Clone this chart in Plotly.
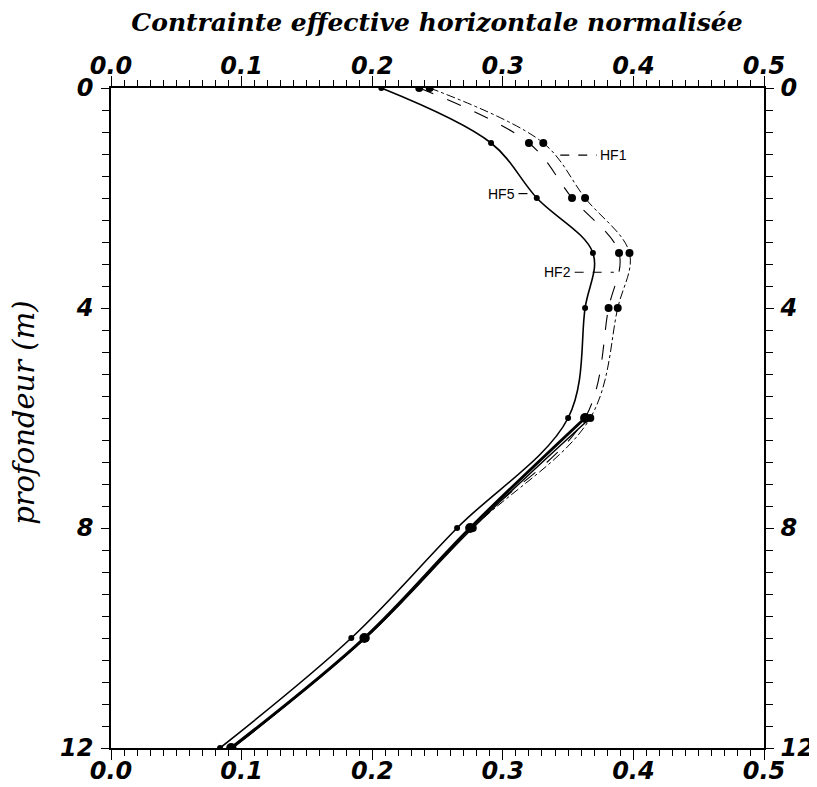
import plotly.graph_objects as go

# ---- data ----
depth = [0, 1, 2, 3, 4, 6, 8, 10, 12]
hf1 = [0.244, 0.331, 0.363, 0.397, 0.388, 0.367, 0.277, 0.195, 0.093]
hf2 = [0.236, 0.320, 0.353, 0.389, 0.381, 0.363, 0.275, 0.194, 0.092]
hf5 = [0.207, 0.291, 0.326, 0.369, 0.363, 0.350, 0.265, 0.184, 0.0835]

x_tick_vals = [0.0, 0.1, 0.2, 0.3, 0.4, 0.5]
x_tick_text = ["0.0", "0.1", "0.2", "0.3", "0.4", "0.5"]
y_tick_vals = [0, 4, 8, 12]
y_tick_text = ["0", "4", "8", "12"]

title_text = "Contrainte effective horizontale normalisée"
ytitle_text = "profondeur (m)"

lower = 5  # index from which HF1/HF2 merge into one thick line

fig = go.Figure()

# HF5: thin solid line, small dots
fig.add_trace(go.Scatter(
    x=hf5, y=depth, mode="lines+markers", name="HF5",
    line=dict(color="black", width=1.6, shape="spline"),
    marker=dict(size=6, color="black"), showlegend=False))

# HF2: thin long-dash line
fig.add_trace(go.Scatter(
    x=hf2, y=depth, mode="lines+markers", name="HF2",
    line=dict(color="black", width=1.1, shape="spline", dash="longdash"),
    marker=dict(size=8, color="black"), showlegend=False))

# HF1: thin dash-dot line
fig.add_trace(go.Scatter(
    x=hf1, y=depth, mode="lines+markers", name="HF1",
    line=dict(color="black", width=1.0, shape="spline", dash="dashdot"),
    marker=dict(size=8, color="black"), showlegend=False))

# lower merged thick part of HF1/HF2
fig.add_trace(go.Scatter(
    x=hf2[lower:], y=depth[lower:], mode="lines+markers", name="HF2 bas",
    line=dict(color="black", width=3, shape="spline"),
    marker=dict(size=10, color="black"), showlegend=False))
fig.add_trace(go.Scatter(
    x=hf1[lower:], y=depth[lower:], mode="lines", name="HF1 bas",
    line=dict(color="black", width=1.5, shape="spline"),
    showlegend=False))

# dummy trace for the mirrored (top/right) axes
fig.add_trace(go.Scatter(x=[None], y=[None], xaxis="x2", yaxis="y2",
                         showlegend=False, hoverinfo="skip"))

num_font = dict(family="DejaVu Sans", size=24, color="black",
                weight="bold", style="italic")

xcommon = dict(range=[0, 0.5], tickvals=x_tick_vals, ticktext=x_tick_text,
               ticks="outside", ticklen=10, tickwidth=1.3, tickcolor="black",
               minor=dict(dtick=0.01, tick0=0, ticks="outside", ticklen=6,
                          tickwidth=1, tickcolor="black"),
               showline=True, linecolor="black", linewidth=1.5,
               showgrid=False, zeroline=False, tickfont=num_font,
               automargin=False)
ycommon = dict(range=[12, 0], tickvals=y_tick_vals, ticktext=y_tick_text,
               ticks="outside", ticklen=8, tickwidth=1.3, tickcolor="black",
               minor=dict(dtick=0.4, tick0=0, ticks="outside", ticklen=7,
                          tickwidth=1, tickcolor="black"),
               showline=True, linecolor="black", linewidth=1.5,
               showgrid=False, zeroline=False, tickfont=num_font,
               automargin=False)

fig.update_layout(
    width=809, height=779,
    margin=dict(l=103, r=53, t=80, b=39, autoexpand=False),
    paper_bgcolor="white", plot_bgcolor="white",
    title=dict(text=title_text, x=0.5303, xanchor="center",
               y=0.982, yanchor="middle", yref="container",
               font=dict(family="DejaVu Serif", size=25, color="black",
                         weight="bold", style="italic")),
    xaxis=dict(side="bottom", anchor="y", ticklabelstandoff=-10, **xcommon),
    xaxis2=dict(side="top", overlaying="x", anchor="y",
                ticklabelstandoff=-7, **xcommon),
    yaxis=dict(side="left", anchor="x", ticklabelstandoff=3, **ycommon),
    yaxis2=dict(side="right", overlaying="y", anchor="x",
                ticklabelstandoff=2, **ycommon),
)

# y-axis title as rotated annotation
fig.add_annotation(x=-0.133, y=0.508, xref="paper", yref="paper",
                   text=ytitle_text, textangle=-90, showarrow=False,
                   xanchor="center", yanchor="middle",
                   font=dict(family="DejaVu Serif", size=29, color="black",
                             style="italic"))

# labels with dashed leaders
lab_font = dict(family="Liberation Sans", size=14, color="black")
leaders = [
    # (x0, x1, y) in data units
    (0.344, 0.372, 1.22),
    (0.312, 0.325, 1.92),
    (0.355, 0.385, 3.35),
]
for x0, x1, yy in leaders:
    fig.add_shape(type="line", x0=x0, x1=x1, y0=yy, y1=yy, xref="x", yref="y",
                  line=dict(color="black", width=1.2, dash="dash"))
fig.add_annotation(x=0.373, y=1.22, text="HF1", showarrow=False,
                   xanchor="left", yanchor="middle", font=lab_font)
fig.add_annotation(x=0.311, y=1.92, text="HF5", showarrow=False,
                   xanchor="right", yanchor="middle", font=lab_font)
fig.add_annotation(x=0.354, y=3.35, text="HF2", showarrow=False,
                   xanchor="right", yanchor="middle", font=lab_font)

fig.write_html("out.html")
